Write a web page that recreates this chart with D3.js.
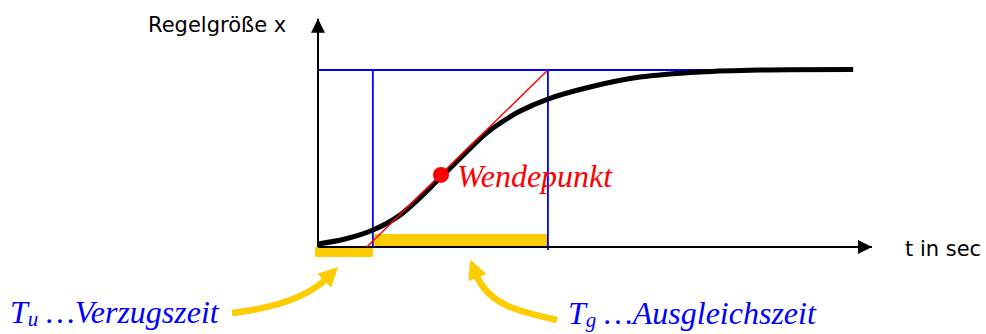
<!DOCTYPE html>
<html>
<head>
<meta charset="utf-8">
<script src="https://cdn.jsdelivr.net/npm/d3@7"></script>
<style>
  body { margin: 0; background: #fff; }
  svg { display: block; }
  .sans { font-family: "DejaVu Sans", Verdana, sans-serif; }
  .serif { font-family: "Liberation Serif", "Times New Roman", serif; font-style: italic; }
</style>
</head>
<body>
<svg></svg>
<script>
const width = 986;
const height = 334;

// Sprungantwort (t in willkürlichen Einheiten, x normiert auf Endwert)
const tValues = [0, 4.87, 9.93, 14.8, 22.4, 29.2, 31.6, 36.5, 41.5, 49.1, 58.1, 69.0, 79.8, 96.6];
const xValues = [0.017, 0.045, 0.096, 0.18, 0.401, 0.61, 0.672, 0.768, 0.836, 0.904, 0.96, 0.989, 1.0, 1.003];

const tuEnd = 9.9;        // Ende Verzugszeit
const tgEnd = 41.5;       // Ende Ausgleichszeit
const tangentStart = 8.8; // Tangente schneidet t-Achse
const wendepunkt = [22.2, 0.407];
const endValue = 1.0;
const endLineT = 95.3;
const axisTopValue = 1.29;
const axisEndT = 100;

const labelY = "Regelgröße x";
const labelX = "t in sec";
const labelWende = "Wendepunkt";
const labelTu = ["T", "u", " …Verzugszeit"];
const labelTg = ["T", "g", " …Ausgleichszeit"];

const blue = "#0000ff";
const red = "#ff0000";
const yellow = "#ffcc00";

let svg = d3.select("svg").attr("width", width).attr("height", height);

let scX = d3.scaleLinear().domain([0, 100]).range([318, 872]);
let scY = d3.scaleLinear().domain([0, 1]).range([247, 70]);

let defs = svg.append("defs");
defs.append("marker")
    .attr("id", "axisHead")
    .attr("viewBox", "0 0 10 10")
    .attr("refX", 10).attr("refY", 5)
    .attr("markerWidth", 7).attr("markerHeight", 7)
    .attr("markerUnits", "strokeWidth")
    .attr("orient", "auto")
    .append("path").attr("d", "M0,0 L10,5 L0,10 Z").attr("fill", "#000");

defs.append("marker")
    .attr("id", "yellowHead")
    .attr("viewBox", "0 0 10 10")
    .attr("refX", 2).attr("refY", 5)
    .attr("markerWidth", 3).attr("markerHeight", 3.2)
    .attr("markerUnits", "strokeWidth")
    .attr("orient", "auto")
    .append("path").attr("d", "M0,0 L10,5 L0,10 Z").attr("fill", yellow);

// gelbe Balken Tu / Tg
svg.append("rect")
    .attr("x", scX(0) - 3).attr("y", scY(0))
    .attr("width", scX(tuEnd) - scX(0) + 3).attr("height", 10)
    .attr("fill", yellow);
svg.append("rect")
    .attr("x", scX(tuEnd)).attr("y", scY(0) - 13)
    .attr("width", scX(tgEnd) - scX(tuEnd)).attr("height", 13)
    .attr("fill", yellow);

// blaue Hilfslinien
svg.append("line")
    .attr("x1", scX(0)).attr("x2", scX(endLineT))
    .attr("y1", scY(endValue)).attr("y2", scY(endValue))
    .attr("stroke", blue).attr("stroke-width", 1.8);
svg.append("line")
    .attr("x1", scX(tuEnd)).attr("x2", scX(tuEnd))
    .attr("y1", scY(endValue)).attr("y2", scY(0))
    .attr("stroke", blue).attr("stroke-width", 1.8);
svg.append("line")
    .attr("x1", scX(tgEnd)).attr("x2", scX(tgEnd))
    .attr("y1", scY(endValue)).attr("y2", scY(0) + 3)
    .attr("stroke", blue).attr("stroke-width", 1.8);

// Achsen
svg.append("line")
    .attr("x1", scX(0)).attr("y1", scY(0))
    .attr("x2", scX(0)).attr("y2", scY(axisTopValue))
    .attr("stroke", "#000").attr("stroke-width", 2)
    .attr("marker-end", "url(#axisHead)");
svg.append("line")
    .attr("x1", scX(0)).attr("y1", scY(0))
    .attr("x2", scX(axisEndT)).attr("y2", scY(0))
    .attr("stroke", "#000").attr("stroke-width", 2)
    .attr("marker-end", "url(#axisHead)");

// Kurve
let curveData = tValues.map((t, i) => [t, xValues[i]]);
let line = d3.line()
    .x(d => scX(d[0]))
    .y(d => scY(d[1]))
    .curve(d3.curveCatmullRom.alpha(0.5));
svg.append("path")
    .datum(curveData)
    .attr("d", line)
    .attr("fill", "none")
    .attr("stroke", "#000")
    .attr("stroke-width", 5)
    .attr("stroke-linejoin", "round");

// Wendetangente
svg.append("line")
    .attr("x1", scX(tangentStart)).attr("y1", scY(0))
    .attr("x2", scX(tgEnd)).attr("y2", scY(endValue))
    .attr("stroke", red).attr("stroke-width", 1.5);

svg.append("circle")
    .attr("cx", scX(wendepunkt[0])).attr("cy", scY(wendepunkt[1]))
    .attr("r", 8).attr("fill", red);

// Texte
svg.append("text")
    .attr("class", "sans")
    .attr("x", 148).attr("y", 32)
    .attr("font-size", 21)
    .text(labelY);
svg.append("text")
    .attr("class", "sans")
    .attr("x", 905).attr("y", 256)
    .attr("font-size", 21)
    .text(labelX);

svg.append("text")
    .attr("class", "serif")
    .attr("x", scX(wendepunkt[0]) + 16).attr("y", scY(wendepunkt[1]) + 12)
    .attr("font-size", 32)
    .attr("fill", red)
    .text(labelWende);

function subLabel(x, y, parts) {
    let t = svg.append("text")
        .attr("class", "serif")
        .attr("x", x).attr("y", y)
        .attr("font-size", 32)
        .attr("fill", blue);
    t.append("tspan").text(parts[0]);
    t.append("tspan").attr("dy", 3).attr("font-size", 21).text(parts[1]);
    t.append("tspan").attr("dy", -3).text(parts[2]);
}
subLabel(10, 323, labelTu);
subLabel(568, 324, labelTg);

// gelbe Pfeile
svg.append("path")
    .attr("d", "M232,313 Q300,305 327,278")
    .attr("fill", "none").attr("stroke", yellow).attr("stroke-width", 6.5)
    .attr("marker-end", "url(#yellowHead)");
svg.append("path")
    .attr("d", "M557,320 C520,312 488,305 476,274")
    .attr("fill", "none").attr("stroke", yellow).attr("stroke-width", 6.5)
    .attr("marker-end", "url(#yellowHead)");
</script>
</body>
</html>
